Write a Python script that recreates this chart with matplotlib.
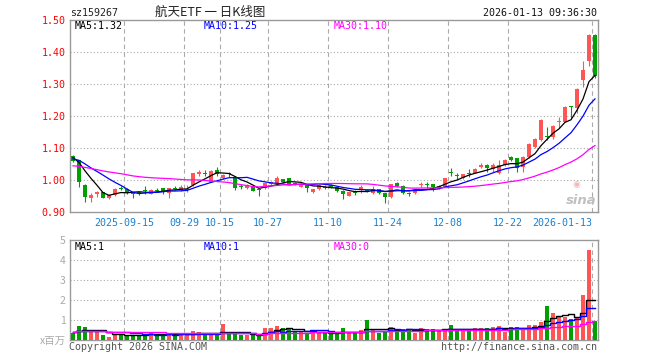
#!/usr/bin/env python3

import matplotlib
matplotlib.use('Agg')
import matplotlib.pyplot as plt
import numpy as np
import pandas as pd


# 航天ETF 日K, 2025-09-02 .. 2026-01-13 (88 sesiones)
opens = [1.075, 1.062, 0.984, 0.945, 0.956, 0.961, 0.945, 0.953, 0.975, 0.972,
         0.960, 0.962, 0.966, 0.957, 0.968, 0.974, 0.958, 0.974, 0.969, 0.970,
         0.984, 1.018, 1.021, 0.995, 1.031, 1.007, 1.019, 1.010, 0.978, 0.974,
         0.977, 0.970, 0.974, 0.987, 0.992, 1.002, 1.005, 0.990, 0.979, 0.984,
         0.964, 0.971, 0.978, 0.984, 0.979, 0.966, 0.951, 0.961, 0.971, 0.967,
         0.960, 0.971, 0.958, 0.946, 0.990, 0.981, 0.958, 0.958, 0.983, 0.987,
         0.987, 0.973, 0.979, 1.025, 1.014, 1.005, 1.021, 1.023, 1.041, 1.047,
         1.034, 1.021, 1.047, 1.073, 1.068, 1.042, 1.071, 1.104, 1.125, 1.136,
         1.135, 1.180, 1.182, 1.229, 1.224, 1.312, 1.372, 1.453]
highs = [1.078, 1.064, 0.986, 0.958, 0.966, 0.963, 0.955, 0.974, 0.980, 0.974,
         0.962, 0.964, 0.980, 0.971, 0.975, 0.976, 0.976, 0.980, 0.985, 0.985,
         1.023, 1.031, 1.031, 1.030, 1.042, 1.020, 1.026, 1.012, 0.986, 0.986,
         0.979, 0.972, 0.993, 0.997, 1.012, 1.004, 1.007, 0.994, 0.990, 0.986,
         0.973, 0.986, 0.983, 0.986, 0.981, 0.968, 0.963, 0.970, 0.984, 0.972,
         0.982, 0.973, 0.960, 0.989, 0.995, 0.983, 0.963, 0.968, 0.995, 0.995,
         0.989, 0.984, 1.007, 1.036, 1.022, 1.020, 1.034, 1.036, 1.052, 1.049,
         1.054, 1.062, 1.065, 1.076, 1.070, 1.076, 1.116, 1.130, 1.190, 1.167,
         1.172, 1.198, 1.232, 1.232, 1.287, 1.372, 1.456, 1.456]
lows = [1.055, 0.979, 0.930, 0.932, 0.947, 0.943, 0.942, 0.951, 0.968, 0.955,
        0.945, 0.952, 0.955, 0.955, 0.962, 0.955, 0.945, 0.968, 0.967, 0.962,
        0.982, 1.014, 1.011, 0.993, 1.013, 1.003, 1.008, 0.969, 0.972, 0.972,
        0.965, 0.950, 0.972, 0.985, 0.990, 0.993, 0.986, 0.984, 0.977, 0.963,
        0.958, 0.969, 0.972, 0.974, 0.964, 0.940, 0.949, 0.952, 0.958, 0.962,
        0.957, 0.956, 0.929, 0.944, 0.979, 0.956, 0.950, 0.956, 0.979, 0.975,
        0.966, 0.971, 0.977, 1.013, 1.004, 1.003, 1.010, 1.021, 1.036, 1.026,
        1.024, 1.019, 1.045, 1.058, 1.026, 1.026, 1.069, 1.100, 1.123, 1.125,
        1.127, 1.161, 1.180, 1.195, 1.208, 1.292, 1.357, 1.320]
closes = [1.060, 0.995, 0.948, 0.953, 0.962, 0.945, 0.952, 0.972, 0.973, 0.958,
          0.955, 0.958, 0.965, 0.969, 0.967, 0.964, 0.974, 0.972, 0.979, 0.972,
          1.021, 1.026, 1.020, 1.029, 1.018, 1.016, 1.018, 0.974, 0.977, 0.984,
          0.967, 0.968, 0.992, 0.995, 1.005, 0.995, 0.988, 0.988, 0.987, 0.974,
          0.971, 0.984, 0.976, 0.976, 0.967, 0.955, 0.961, 0.959, 0.979, 0.965,
          0.971, 0.958, 0.948, 0.987, 0.981, 0.958, 0.957, 0.966, 0.985, 0.985,
          0.977, 0.982, 1.005, 1.023, 1.012, 1.018, 1.019, 1.033, 1.047, 1.038,
          1.047, 1.047, 1.062, 1.062, 1.036, 1.073, 1.114, 1.127, 1.187, 1.134,
          1.169, 1.182, 1.229, 1.227, 1.284, 1.344, 1.453, 1.326]
# volumen en millones
volumes = [0.33, 0.70, 0.63, 0.50, 0.38, 0.25, 0.17, 0.30, 0.28, 0.25,
           0.25, 0.25, 0.30, 0.33, 0.25, 0.30, 0.25, 0.25, 0.33, 0.25,
           0.47, 0.42, 0.25, 0.25, 0.28, 0.80, 0.33, 0.33, 0.25, 0.25,
           0.25, 0.25, 0.62, 0.62, 0.70, 0.58, 0.55, 0.42, 0.42, 0.33,
           0.42, 0.33, 0.42, 0.30, 0.30, 0.58, 0.37, 0.37, 0.50, 1.00,
           0.53, 0.33, 0.42, 0.63, 0.53, 0.53, 0.53, 0.37, 0.58, 0.53,
           0.55, 0.50, 0.50, 0.75, 0.50, 0.50, 0.50, 0.58, 0.58, 0.58,
           0.63, 0.70, 0.42, 0.63, 0.67, 0.53, 0.75, 0.75, 0.92, 1.70,
           1.37, 1.20, 1.13, 1.03, 1.13, 2.25, 4.50, 0.97]

# sesiones anteriores a la ventana, solo para arrancar las medias moviles
prev_closes = [1.04, 1.05, 1.06, 1.07, 1.06, 1.05, 1.06, 1.05, 1.06, 1.06,
               1.03, 1.02, 1.01, 1.00, 0.99, 1.00, 1.01, 1.02, 1.01, 1.02,
               1.04, 1.06, 1.08, 1.07, 1.06, 1.07, 1.08, 1.07, 1.07]
prev_volumes = [0.42, 0.40, 0.45, 0.42, 0.38, 0.44, 0.42, 0.46, 0.40, 0.42,
                0.44, 0.40, 0.45, 0.42, 0.40, 0.44, 0.42, 0.40, 0.45, 0.43,
                0.40, 0.45, 0.42, 0.44, 0.40, 0.42, 0.44, 0.40, 0.42]

tick_pos = [9, 19, 25, 33, 43, 53, 63, 73, 87]
tick_labels = ['2025-09-15', '09-29', '10-15', '10-27', '11-10',
               '11-24', '12-08', '12-22', '2026-01-13']
price_ticks = [0.90, 1.00, 1.10, 1.20, 1.30, 1.40, 1.50]
vol_ticks = [0, 1, 2, 3, 4, 5]
vol_tick_labels = ['x百万', '1', '2', '3', '4', '5']

RED = '#ff5555'
GREEN = '#00a000'
GRID = '#aaaaaa'
MONO = 'DejaVu Sans Mono'
CJK = ['Noto Sans CJK SC', 'DejaVu Sans']

W, H = 660, 360
fig = plt.figure(figsize=(W / 100, H / 100), dpi=100)


def ftext(x, y, s, **kw):
    """Texto en coordenadas de pixel de la figura (origen arriba a la izquierda)."""
    kw.setdefault('family', MONO)
    kw.setdefault('fontsize', 7.2)
    kw.setdefault('va', 'center')
    fig.text(x / W, 1 - y / H, s, **kw)


ax = fig.add_axes([70 / W, 1 - 212 / H, 528 / W, 192 / H])
axv = fig.add_axes([70 / W, 1 - 340 / H, 528 / W, 100 / H])

n0 = len(prev_closes)
c_all = pd.Series(prev_closes + closes)
v_all = pd.Series(prev_volumes + volumes)
ma = {k: c_all.rolling(k).mean().values[n0:] for k in (5, 10, 30)}
vma = {k: v_all.rolling(k).mean().values[n0:] for k in (5, 10, 30)}

x = np.arange(len(closes))
o = np.array(opens)
c = np.array(closes)
cols = np.where(c >= o, RED, GREEN)

# velas
ax.vlines(x, lows, highs, colors=cols, lw=0.8, zorder=3)
body = np.maximum(np.abs(c - o), 0.003)
ax.bar(x, body, 0.8, bottom=np.minimum(o, c), color=cols, lw=0, zorder=3)
ax.plot(x, ma[5], color='black', lw=0.9, zorder=4)
ax.plot(x, ma[10], color='#0000ff', lw=0.9, zorder=4)
ax.plot(x, ma[30], color='#ff00ff', lw=0.9, zorder=4)

# volumen
axv.bar(x, volumes, 0.8, color=cols, lw=0, zorder=3)
axv.plot(x, vma[5], color='black', lw=1.0, drawstyle='steps-mid', zorder=4)
axv.plot(x, vma[10], color='#0000ff', lw=1.0, drawstyle='steps-mid', zorder=4)
axv.plot(x, vma[30], color='#ff00ff', lw=1.0, drawstyle='steps-mid', zorder=4)

grid_x = [p - 0.5 for p in tick_pos]
for a in (ax, axv):
    a.set_xlim(-0.5, len(closes) - 0.5)
    for p in grid_x:
        a.axvline(p, color=GRID, lw=0.8, ls=(0, (4, 3)), zorder=1)
    for s in a.spines.values():
        s.set_color('#999999')
        s.set_linewidth(1)

ax.set_ylim(0.90, 1.50)
ax.set_yticks(price_ticks, ['%.2f' % t for t in price_ticks])
for t in price_ticks[1:-1]:
    ax.axhline(t, color=GRID, lw=0.8, ls=(0, (1, 2)), zorder=1)
ax.tick_params(axis='y', length=0, pad=3, labelcolor='red', labelsize=7.2)
ax.set_xticks(grid_x, tick_labels)
ax.tick_params(axis='x', length=0, pad=4, labelcolor='#1a80d0', labelsize=7.2)
for lbl in ax.get_xticklabels() + ax.get_yticklabels():
    lbl.set_family(MONO)
ax.get_xticklabels()[-1].set_ha('right')

axv.set_ylim(0, 5)
axv.set_yticks(vol_ticks, vol_tick_labels)
for t in vol_ticks[1:-1]:
    axv.axhline(t, color=GRID, lw=0.8, ls=(0, (1, 2)), zorder=1)
axv.tick_params(axis='y', length=0, pad=3, labelcolor='#aaaaaa', labelsize=7.5)
for lbl in axv.get_yticklabels():
    lbl.set_family(CJK)
axv.set_xticks(grid_x, [])
axv.tick_params(axis='x', length=0)

# marca de agua sina
ftext(576, 185, '◉', family='DejaVu Sans', fontsize=6.5, color='#f5b5b5', ha='center')
ftext(581, 200, 'sina', family='DejaVu Sans', fontsize=9.5, weight='bold',
      style='italic', color='#c0c0c0', ha='center')

# textos
ftext(70, 13, 'sz159267', color='#222222')
ftext(210, 12.5, '航天ETF 一 日K线图', family=CJK, fontsize=9, ha='center', color='#222222')
ftext(597, 13, '2026-01-13 09:36:30', ha='right', color='#111111')
ftext(75, 26, 'MA5:1.32', color='black')
ftext(204, 26, 'MA10:1.25', color='#0000ff')
ftext(334, 26, 'MA30:1.10', color='#ff00ff')
ftext(75, 246.5, 'MA5:1', color='black')
ftext(204, 246.5, 'MA10:1', color='#0000ff')
ftext(334, 246.5, 'MA30:0', color='#ff00ff')
ftext(69, 347, 'Copyright 2026 SINA.COM', color='#555555')
ftext(597, 347, 'http://finance.sina.com.cn', ha='right', color='#555555')

fig.savefig('out.png', dpi=100)
